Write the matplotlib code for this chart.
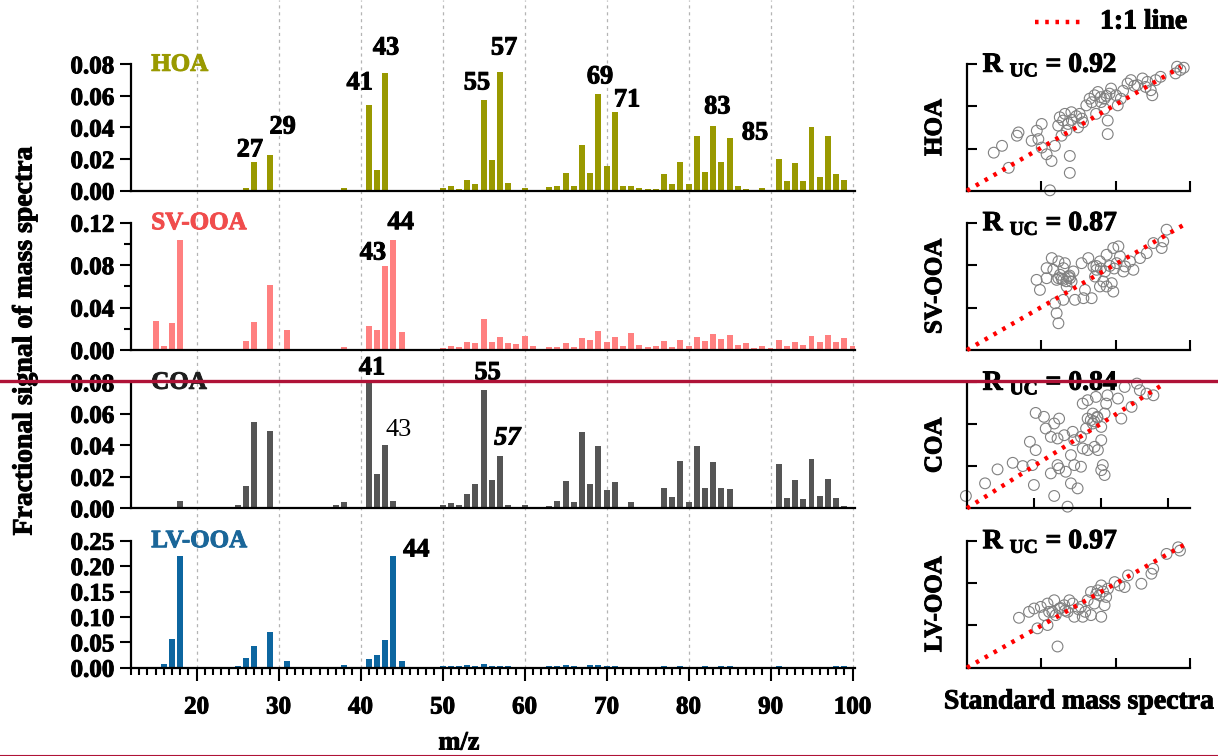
import numpy as np
import matplotlib
matplotlib.use('Agg')
import matplotlib.pyplot as plt
import matplotlib.patheffects as pe
from matplotlib.lines import Line2D
from matplotlib.text import Text
from matplotlib.ticker import MultipleLocator

plt.rcParams['font.family'] = 'Liberation Serif'
plt.rcParams['font.weight'] = 'bold'
plt.rcParams['mathtext.fontset'] = 'custom'
plt.rcParams['mathtext.rm'] = 'Liberation Serif:bold'
plt.rcParams['mathtext.bf'] = 'Liberation Serif:bold'

# m/z 12 ... 100
mz = np.arange(12, 101)

hoa = [0, 0, 0, 0, 0, 0, 0, 0, 0, 0,
       0, 0, 0, 0, 0.002, 0.0181, 0, 0.0226, 0, 0.0003,
       0, 0, 0, 0, 0, 0.0004, 0.002, 0, 0, 0.0542,
       0.0129, 0.0745, 0, 0, 0, 0, 0, 0, 0.0019, 0.0032,
       0.001, 0.0068, 0.0042, 0.0574, 0.0194, 0.0749, 0.0049, 0, 0.0019, 0.0004,
       0.0004, 0.0023, 0.003, 0.011, 0.003, 0.0287, 0.011, 0.0612, 0.0158, 0.05,
       0.003, 0.003, 0.0017, 0.001, 0.001, 0.0103, 0.0042, 0.0181, 0.0042, 0.0346,
       0.0116, 0.0407, 0.0181, 0.0335, 0.003, 0.001, 0.0004, 0.0017, 0.0004, 0.02,
       0.0061, 0.0177, 0.0061, 0.0403, 0.0086, 0.0346, 0.0103, 0.0068, 0.0006]

svooa = [0, 0, 0, 0.0276, 0.004, 0.0258, 0.1037, 0, 0, 0,
         0, 0, 0, 0.001, 0.0085, 0.0267, 0, 0.0613, 0.001, 0.0188,
         0, 0, 0, 0, 0, 0.001, 0.003, 0, 0, 0.0223,
         0.0188, 0.0795, 0.1037, 0.017, 0, 0, 0, 0, 0.0022, 0.004,
         0.003, 0.0075, 0.0066, 0.0292, 0.0075, 0.0123, 0.0066, 0.0057, 0.0132, 0.004,
         0.001, 0.003, 0.003, 0.0066, 0.003, 0.0113, 0.0094, 0.0176, 0.0075, 0.0123,
         0.004, 0.0157, 0.0047, 0.003, 0.004, 0.0085, 0.003, 0.0094, 0.004, 0.0123,
         0.0085, 0.0148, 0.0104, 0.0138, 0.0047, 0.0066, 0.0022, 0.004, 0.0022, 0.0094,
         0.004, 0.0075, 0.0047, 0.0132, 0.0075, 0.0138, 0.0075, 0.0113, 0.004]

coa = [0, 0, 0, 0, 0, 0.001, 0.0047, 0, 0, 0,
       0, 0, 0, 0.002, 0.0142, 0.0548, 0, 0.0489, 0, 0,
       0, 0, 0, 0, 0, 0.0023, 0.004, 0, 0, 0.080,
       0.022, 0.0402, 0.0047, 0, 0, 0, 0, 0, 0.0019, 0.0036,
       0.0019, 0.0093, 0.0154, 0.0751, 0.018, 0.033, 0.0019, 0, 0.0023, 0,
       0, 0.0013, 0.0049, 0.0171, 0.0042, 0.0485, 0.0154, 0.0398, 0.0116, 0.0165,
       0, 0.0042, 0, 0, 0, 0.0129, 0.0074, 0.0303, 0.0042, 0.0398,
       0.0129, 0.0294, 0.0129, 0.0123, 0, 0, 0, 0, 0, 0.0281,
       0.0068, 0.0178, 0.0061, 0.0313, 0.008, 0.0186, 0.0068, 0.0017, 0]

lvooa = [0.0005, 0.0005, 0, 0.001, 0.007, 0.0558, 0.22, 0, 0, 0,
         0, 0, 0.001, 0.004, 0.019, 0.0427, 0, 0.0702, 0, 0.0131,
         0, 0, 0, 0, 0, 0.001, 0.005, 0, 0, 0.0171,
         0.025, 0.0538, 0.22, 0.0131, 0, 0, 0, 0.001, 0.003, 0.004,
         0.003, 0.006, 0.004, 0.008, 0.004, 0.003, 0.004, 0.001, 0.001, 0.001,
         0.002, 0.003, 0.003, 0.005, 0.003, 0.001, 0.005, 0.005, 0.003, 0.003,
         0.001, 0.001, 0.001, 0.001, 0.001, 0.004, 0.002, 0.003, 0.001, 0.002,
         0.004, 0.002, 0.004, 0.003, 0.001, 0.001, 0.001, 0.001, 0.002, 0.004,
         0.001, 0.001, 0.001, 0.001, 0.001, 0.001, 0.003, 0.003, 0.001]

factors = ['HOA', 'SV-OOA', 'COA', 'LV-OOA']
spectra = [hoa, svooa, coa, lvooa]
r_uc = [0.92, 0.87, 0.84, 0.97]

# labelled peaks: (m/z, label x, label y, style)
hoa_peaks = [(27, 26.5, 0.0258, 'b'), (29, 30.5, 0.0403, 'b'), (41, 39.9, 0.0682, 'b'),
             (43, 43.1, 0.0903, 'b'), (55, 54.2, 0.0682, 'b'), (57, 57.5, 0.0903, 'b'),
             (69, 69.2, 0.072, 'b'), (71, 72.5, 0.0574, 'b'), (83, 83.5, 0.053, 'b'),
             (85, 88.1, 0.0365, 'b')]
svooa_peaks = [(44, 44.9, 0.120, 'b'), (43, 41.5, 0.0914, 'b')]
coa_peaks = [(41, 41.4, 0.0891, 'b'), (55, 55.5, 0.086, 'b'),
             (43, 44.6, 0.0497, 'n'), (57, 57.9, 0.0446, 'i')]
lvooa_peaks = [(44, 46.8, 0.2317, 'b')]
peaks = [hoa_peaks, svooa_peaks, coa_peaks, lvooa_peaks]

# scatter: standard spectrum (x) vs factor spectrum (y), scaled to panel range
hoa_x = [0.372, 0.461, 0.631, 0.631, 0.379, 0.157, 0.12, 0.224, 0.231, 0.335,
         0.313, 0.29, 0.335, 0.357, 0.394, 0.461, 0.416, 0.439, 0.468, 0.431,
         0.453, 0.409, 0.446, 0.424, 0.498, 0.52, 0.505, 0.535, 0.55, 0.572,
         0.587, 0.601, 0.616, 0.639, 0.646, 0.616, 0.579, 0.668, 0.69, 0.676,
         0.72, 0.735, 0.764, 0.787, 0.809, 0.824, 0.831, 0.801, 0.846, 0.868,
         0.942, 0.957, 0.972, 0.935, 0.187, 0.32, 0.47, 0.49, 0.515, 0.6,
         0.625, 0.56, 0.7, 0.75]
hoa_y = [0.003, 0.141, 0.448, 0.555, 0.235, 0.355, 0.301, 0.435, 0.461, 0.528,
         0.475, 0.395, 0.341, 0.288, 0.355, 0.275, 0.581, 0.608, 0.621, 0.555,
         0.528, 0.515, 0.475, 0.435, 0.501, 0.541, 0.608, 0.675, 0.728, 0.755,
         0.781, 0.701, 0.728, 0.768, 0.808, 0.648, 0.608, 0.755, 0.728, 0.675,
         0.848, 0.875, 0.835, 0.888, 0.861, 0.795, 0.755, 0.821, 0.875, 0.901,
         0.981, 0.955, 0.973, 0.928, 0.181, 0.408, 0.56, 0.59, 0.57, 0.74,
         0.75, 0.7, 0.79, 0.83]

svooa_x = [0.41, 0.402, 0.395, 0.432, 0.312, 0.327, 0.38, 0.41, 0.432, 0.387,
           0.41, 0.432, 0.454, 0.469, 0.447, 0.477, 0.484, 0.522, 0.559, 0.529,
           0.514, 0.544, 0.567, 0.581, 0.596, 0.574, 0.611, 0.626, 0.596, 0.656,
           0.649, 0.619, 0.626, 0.656, 0.679, 0.686, 0.671, 0.709, 0.701, 0.731,
           0.746, 0.776, 0.806, 0.836, 0.873, 0.88, 0.895, 0.402, 0.417, 0.462,
           0.357, 0.439, 0.357, 0.425, 0.445, 0.46, 0.58, 0.6, 0.64, 0.66]
svooa_y = [0.21, 0.289, 0.367, 0.394, 0.551, 0.472, 0.722, 0.696, 0.643, 0.63,
           0.564, 0.551, 0.577, 0.538, 0.499, 0.617, 0.394, 0.407, 0.407, 0.472,
           0.682, 0.722, 0.656, 0.63, 0.696, 0.577, 0.538, 0.499, 0.499, 0.459,
           0.525, 0.617, 0.748, 0.801, 0.814, 0.735, 0.682, 0.656, 0.617, 0.696,
           0.63, 0.722, 0.761, 0.84, 0.801, 0.853, 0.945, 0.551, 0.591, 0.564,
           0.643, 0.682, 0.564, 0.56, 0.54, 0.585, 0.66, 0.64, 0.66, 0.64]

coa_x = [-0.005, 0.081, 0.137, 0.205, 0.25, 0.293, 0.3, 0.282, 0.308, 0.308,
         0.345, 0.353, 0.391, 0.413, 0.376, 0.406, 0.436, 0.474, 0.481, 0.466,
         0.481, 0.511, 0.413, 0.443, 0.376, 0.406, 0.466, 0.496, 0.391, 0.451,
         0.519, 0.541, 0.578, 0.63, 0.677, 0.624, 0.564, 0.541, 0.584, 0.617,
         0.564, 0.602, 0.534, 0.511, 0.519, 0.541, 0.572, 0.602, 0.587, 0.609,
         0.617, 0.602, 0.692, 0.707, 0.775, 0.805, 0.836, 0.762, 0.738, 0.555,
         0.57, 0.585]
coa_y = [0.098, 0.198, 0.309, 0.361, 0.335, 0.343, 0.185, 0.528, 0.462, 0.757,
         0.726, 0.633, 0.673, 0.712, 0.567, 0.554, 0.58, 0.607, 0.541, 0.422,
         0.343, 0.33, 0.317, 0.29, 0.277, 0.343, 0.198, 0.158, 0.098, 0.013,
         0.831, 0.858, 0.884, 0.897, 0.871, 0.831, 0.752, 0.712, 0.726, 0.752,
         0.673, 0.646, 0.633, 0.567, 0.475, 0.462, 0.488, 0.541, 0.462, 0.343,
         0.264, 0.303, 0.712, 0.963, 0.937, 0.91, 0.897, 0.99, 0.805, 0.7,
         0.69, 0.72]

lvooa_x = [0.406, 0.316, 0.361, 0.233, 0.278, 0.301, 0.331, 0.361, 0.391, 0.346,
           0.383, 0.414, 0.436, 0.451, 0.474, 0.481, 0.519, 0.556, 0.602, 0.511,
           0.541, 0.556, 0.586, 0.602, 0.624, 0.617, 0.571, 0.632, 0.662, 0.684,
           0.707, 0.722, 0.782, 0.827, 0.835, 0.895, 0.955, 0.947, 0.368, 0.398,
           0.459, 0.594, 0.42, 0.44, 0.5, 0.53, 0.58, 0.61]
lvooa_y = [0.167, 0.31, 0.336, 0.393, 0.44, 0.466, 0.479, 0.505, 0.531, 0.414,
           0.44, 0.466, 0.492, 0.44, 0.505, 0.401, 0.401, 0.414, 0.401, 0.479,
           0.531, 0.596, 0.609, 0.648, 0.557, 0.492, 0.505, 0.622, 0.674, 0.648,
           0.635, 0.727, 0.661, 0.74, 0.779, 0.896, 0.922, 0.948, 0.44, 0.414,
           0.531, 0.57, 0.47, 0.45, 0.46, 0.44, 0.58, 0.6]

scatter_x = [hoa_x, svooa_x, coa_x, lvooa_x]
scatter_y = [hoa_y, svooa_y, coa_y, lvooa_y]

# styling
bar_colors = ['#999900', '#ff8080', '#555555', '#0d66a0']
name_colors = ['#999900', '#f04c4c', '#1e1e1e', '#1a6699']
ytops = [0.08, 0.12, 0.08, 0.25]
ysteps = [0.02, 0.04, 0.02, 0.05]
yminor = [None, 0.02, None, None]
line_end = [(0.96, 0.98), (0.973, 0.984), (0.873, 0.976), (0.98, 0.974)]
sc_xticks = [[1/3, 2/3, 1], [1/3, 2/3, 1], [0.3, 0.6, 0.9], [1/3, 2/3, 1]]

W, H = 1218, 756
fig = plt.figure(figsize=(W / 100, H / 100), dpi=100)

# panel rows in pixels: (top, bottom)
rows = [(64.3, 190.7), (222.7, 350.0), (382.3, 508.3), (540.7, 667.7)]
bx0, bx1 = 131, 855
sx0, sx1 = 967, 1190
xmin, xmax = 12, 100.3

# dashed guide lines running behind all bar panels
gax = fig.add_axes([bx0 / W, 1 - rows[-1][1] / H, (bx1 - bx0) / W, rows[-1][1] / H])
gax.set_xlim(xmin, xmax)
gax.set_ylim(0, 1)
gax.axis('off')
for g in range(20, 101, 10):
    gax.axvline(g, color='#b4b4b4', lw=0.9, ls=(0, (2.5, 3)), zorder=0)

for i, name in enumerate(factors):
    top, bot = rows[i]
    ax = fig.add_axes([bx0 / W, 1 - bot / H, (bx1 - bx0) / W, (bot - top) / H])
    ax.patch.set_alpha(0)
    ax.bar(mz, spectra[i], width=0.72, color=bar_colors[i], linewidth=0, zorder=2)
    ax.set_xlim(xmin, xmax)
    ax.set_ylim(0, ytops[i])
    ax.spines['top'].set_visible(False)
    ax.spines['right'].set_visible(False)
    for s in ['left', 'bottom']:
        ax.spines[s].set_linewidth(1.6)
    ax.yaxis.set_major_locator(MultipleLocator(ysteps[i]))
    if yminor[i]:
        ax.yaxis.set_minor_locator(MultipleLocator(yminor[i]))
    ax.yaxis.set_major_formatter(plt.FormatStrFormatter('%.2f'))
    ax.tick_params(axis='y', direction='out', length=8, width=1.5, labelsize=18, pad=4)
    ax.tick_params(axis='y', which='minor', direction='out', length=5, width=1.5)
    if i < 3:
        ax.tick_params(axis='x', bottom=False, labelbottom=False)
    else:
        ax.xaxis.set_minor_locator(MultipleLocator(1))
        ax.set_xticks(range(20, 101, 10))
        ax.tick_params(axis='x', direction='out', length=9, width=1.5, labelsize=18, pad=11)
        ax.tick_params(axis='x', which='minor', direction='out', length=5, width=1.5)
    ax.text(0.028, 1.0, name, transform=ax.transAxes, color=name_colors[i],
            fontsize=18, fontweight='bold', va='center', ha='left')
    for m, lx, ly, style in peaks[i]:
        ax.text(lx, ly, str(m), fontsize=19, ha='center', va='center',
                fontweight='normal' if style == 'n' else 'bold',
                fontstyle='italic' if style == 'i' else 'normal', clip_on=False)

    # scatter panel
    sax = fig.add_axes([sx0 / W, 1 - bot / H, (sx1 - sx0) / W, (bot - top) / H])
    sax.scatter(scatter_x[i], scatter_y[i], s=60, facecolors='none', edgecolors='#808080',
                linewidths=0.8, clip_on=False, zorder=2)
    ex, ey = line_end[i]
    sax.plot([0, ex], [0, ey], color='red', lw=3.2, ls=(0, (0.8, 1.5)), zorder=3,
             clip_on=False)
    sax.set_xlim(0, 1)
    sax.set_ylim(0, 1)
    sax.spines['top'].set_visible(False)
    sax.spines['right'].set_visible(False)
    for s in ['left', 'bottom']:
        sax.spines[s].set_linewidth(1.6)
    sax.set_xticks(sc_xticks[i])
    sax.set_yticks([1/3, 2/3, 1])
    sax.tick_params(direction='in', length=7, width=1.5, labelbottom=False, labelleft=False)
    sax.text(-0.145, 0.5, name, transform=sax.transAxes, rotation=90,
             fontsize=18, va='center', ha='center')
    sax.text(0.07, 0.94, r'$\mathrm{R}_{\ \mathrm{UC}}$ = %.2f' % r_uc[i],
             transform=sax.transAxes, fontsize=20, va='baseline', ha='left')

fig.text(25 / W, 1 - 341 / H, 'Fractional signal of mass spectra', rotation=90,
         fontsize=20, va='center', ha='center')
fig.text(459 / W, 1 - 743 / H, 'm/z', fontsize=19, va='center', ha='center')
fig.text(1079 / W, 1 - 702 / H, 'Standard mass spectra', fontsize=20,
         va='center', ha='center')

# legend for the 1:1 line
fig.add_artist(Line2D([1035 / W, 1083 / W], [1 - 22 / H, 1 - 22 / H], color='red',
                      lw=3.2, ls=(0, (0.8, 1.5))))
fig.text(1100 / W, 1 - 22 / H, '1:1 line', fontsize=20, va='center', ha='left')

# horizontal rules
fig.add_artist(Line2D([0, 1], [1 - 381 / H, 1 - 381 / H], color='#af1237', lw=2.4, zorder=10))
fig.add_artist(Line2D([0, 1], [1 - 755 / H, 1 - 755 / H], color='#af1237', lw=0.8, zorder=10))

# heavier strokes on all lettering
fig.canvas.draw()
for t in fig.findobj(Text):
    if t.get_text() and t.get_fontweight() in ('bold', 700):
        t.set_path_effects([pe.withStroke(linewidth=0.7, foreground=t.get_color())])

fig.savefig('out.png', dpi=100)
